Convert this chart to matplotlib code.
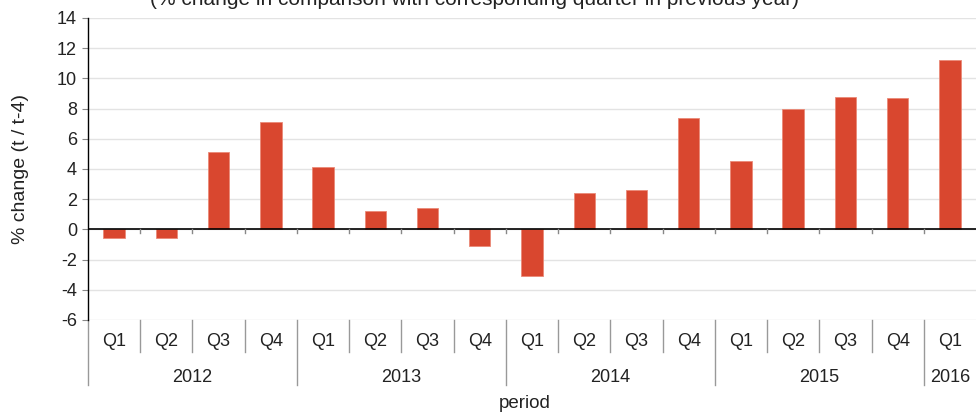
import matplotlib
matplotlib.use("Agg")
import matplotlib.pyplot as plt
import matplotlib.transforms as mtransforms

plt.rcParams["font.family"] = ["Liberation Sans", "DejaVu Sans"]
plt.rcParams["axes.unicode_minus"] = False

quarters = ["Q1", "Q2", "Q3", "Q4", "Q1", "Q2", "Q3", "Q4", "Q1", "Q2", "Q3", "Q4",
            "Q1", "Q2", "Q3", "Q4", "Q1"]
years = ["2012", "2013", "2014", "2015", "2016"]
year_counts = [4, 4, 4, 4, 1]
values = [-0.6, -0.6, 5.1, 7.1, 4.1, 1.2, 1.4, -1.1, -3.1, 2.4, 2.6, 7.4,
          4.5, 8.0, 8.8, 8.7, 11.2]

bar_color = "#d9472f"
txt_color = "#222222"

fig = plt.figure(figsize=(9.76, 4.12), dpi=100)
ax = fig.add_axes([88 / 976, 1 - 320 / 412, 1 - 88 / 976, 302 / 412])

x = list(range(len(values)))
ax.bar(x, values, width=0.41, color=bar_color, edgecolor="#ea8a78", linewidth=0.6, zorder=3)

ax.set_xlim(-0.5, len(values) - 0.5)
ax.set_ylim(-6, 14)
ax.set_yticks(range(-6, 15, 2))
ax.yaxis.grid(True, color="#e3e3e3", linewidth=1.0, zorder=0)
ax.tick_params(axis="y", length=4, color="#888888", labelsize=13, labelcolor=txt_color, pad=4)
ax.set_xticks([])
for s in ["top", "right", "bottom"]:
    ax.spines[s].set_visible(False)
ax.spines["left"].set_color("black")
ax.spines["left"].set_linewidth(1.0)

# zero line with small ticks at the category borders
ax.axhline(0, color="black", linewidth=1.2, zorder=4)
trans = mtransforms.blended_transform_factory(ax.transData, ax.transAxes)
zero_ax = 6 / 20
for b in range(1, len(values)):
    ax.plot([b - 0.5, b - 0.5], [zero_ax, zero_ax - 4 / 302], transform=trans,
            color="#888888", linewidth=1.0, zorder=4)

# two-level category axis below the plot
q_depth = 32 / 302
y_depth = 65 / 302
bounds = [-0.5]
start = 0
for c in year_counts:
    start += c
    bounds.append(start - 0.5)
for b in range(len(values)):
    xb = b - 0.5
    d = y_depth if xb in bounds else q_depth
    ax.plot([xb, xb], [0, -d], transform=trans, color="#999999",
            linewidth=1.0, clip_on=False)

for i, q in enumerate(quarters):
    ax.text(i, -22 / 302, q, transform=trans, ha="center", va="center",
            fontsize=13, color=txt_color)

pos = 0
for yr, c in zip(years, year_counts):
    ax.text(pos + (c - 1) / 2, -57 / 302, yr, transform=trans, ha="center",
            va="center", fontsize=13, color=txt_color)
    pos += c

ax.set_ylabel("% change (t / t-4)", fontsize=14, color=txt_color, labelpad=20)
fig.text(525 / 976, 1 - 403 / 412, "period", ha="center", va="center",
         fontsize=13.5, color=txt_color)
fig.text(474 / 976, 1 - 5 / 412,
         "(% change in comparison with corresponding quarter in previous year)",
         ha="center", va="baseline", fontsize=15, color=txt_color)

fig.savefig("out.png", dpi=100)
